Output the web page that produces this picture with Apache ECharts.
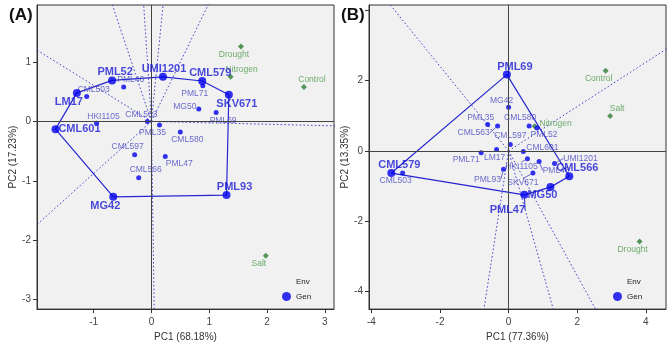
<!DOCTYPE html>
<html>
<head>
<meta charset="utf-8">
<script src="https://cdn.jsdelivr.net/npm/echarts@6.0.0/dist/echarts.min.js"></script>
<style>
html,body{margin:0;padding:0;background:#fff;}
#chart{width:669px;height:347px;}
</style>
</head>
<body>
<div id="chart"></div>
<script>
// ---- panel A (PC1 68.18%, PC2 17.23%) ----
const genA = ['UMI1201','PML52','LM17','CML601','MG42','PML93','SKV671','CML579',
  'PML46','CML503','HKI1105','CML563','PML35','CML597','PML47','CML566','CML580','MG50','PML69','PML71'];
const pc1A = [0.20,-0.68,-1.29,-1.66,-0.66,1.30,1.34,0.88,
  -0.48,-1.12,-0.95,-0.07,0.14,-0.29,0.24,-0.22,0.50,0.82,1.12,0.89];
const pc2A = [0.75,0.69,0.48,-0.13,-1.27,-1.24,0.45,0.68,
  0.58,0.42,-0.03,0.00,-0.06,-0.56,-0.59,-0.95,-0.18,0.21,0.15,0.60];
const hullA = ['UMI1201','CML579','SKV671','PML93','MG42','CML601','LM17','PML52'];
const envA = ['Drought','Nitrogen','Control','Salt'];
const envPc1A = [1.55,1.37,2.64,1.98];
const envPc2A = [1.26,0.75,0.58,-2.26];
const xTicksA = [-1,0,1,2,3];
const yTicksA = [-3,-2,-1,0,1];

// ---- panel B (PC1 77.36%, PC2 13.35%) ----
const genB = ['PML69','CML566','MG50','PML47','CML579',
  'CML503','MG42','PML35','CML563','CML580','PML52','CML597','CML601','LM17','PML71',
  'HKI1105','PML46','UMI1201','PML93','SKV671'];
const pc1B = [-0.05,1.77,1.22,0.46,-3.42,
  -3.09,0.00,-0.61,-0.32,0.60,0.83,0.05,0.43,-0.35,-0.80,
  0.55,0.89,1.34,-0.15,0.71];
const pc2B = [2.17,-0.72,-1.03,-1.25,-0.63,
  -0.63,1.24,0.75,0.71,0.71,0.65,0.18,-0.02,0.04,-0.05,
  -0.22,-0.30,-0.36,-0.52,-0.63];
const hullB = ['PML69','CML566','MG50','PML47','CML579'];
const envB = ['Control','Salt','Nitrogen','Drought'];
const envPc1B = [2.83,2.96,0.76,3.82];
const envPc2B = [2.28,0.99,0.70,-2.58];
const xTicksB = [-4,-2,0,2,4];
const yTicksB = [-4,-2,0,2,4];
const yLabelsB = [-4,-2,0,2];

// label offsets in px (text centre relative to the point)
const offA = {
  UMI1201:[1,-8], PML52:[3,-8], LM17:[-8,9], CML601:[24,0], MG42:[-8,9], PML93:[8,-8],
  SKV671:[8,9], CML579:[8,-8], PML46:[7,-7], CML503:[7,-7], HKI1105:[7,-7], CML563:[-6,-7],
  PML35:[-7,8], CML597:[-7,-8], PML47:[14,7], CML566:[7,-8], CML580:[7,8], MG50:[-14,-2],
  PML69:[7,8], PML71:[-8,8],
  Drought:[-7,8], Nitrogen:[11,-7], Control:[8,-7], Salt:[-7,8]
};
const offB = {
  PML69:[8,-8], CML566:[8,-8], MG50:[-8,8], PML47:[-17,15], CML579:[8,-8], CML503:[-7,8],
  MG42:[-7,-7], PML35:[-7,-7], CML563:[-24,7], CML580:[-9,-8], PML52:[7,7], CML597:[0,-9],
  CML601:[19,-4], LM17:[-2,8], PML71:[-15,7], HKI1105:[-6,8], PML46:[17,9], UMI1201:[26,-5],
  PML93:[-16,10], SKV671:[-10,10],
  Control:[-7,8], Salt:[7,-7], Nitrogen:[21,-3], Drought:[-7,8]
};
// labels joined to their point by a short segment
const leadB = ['PML47','CML563','PML93','UMI1201','HKI1105','SKV671','PML46'];

const FONT = "'Liberation Sans', Arial, sans-serif";
const BLUE = '#0000ee';
const GREEN = '#2e7d32';

function buildPanel(gi, names, xs, ys, hull, envNames, envX, envY, offs, leads) {
  const pos = {};
  names.forEach((n, i) => { pos[n] = [xs[i], ys[i]]; });
  const series = [];
  const layout = p => {
    const o = offs[p.text] || [0, 0];
    return {dx: o[0], dy: o[1]};
  };

  // zero lines
  series.push({
    type: 'line', xAxisIndex: gi, yAxisIndex: gi, data: [], silent: true,
    markLine: {
      silent: true, symbol: 'none', label: {show: false},
      lineStyle: {color: '#444', width: 1, type: 'solid'},
      data: [{xAxis: 0}, {yAxis: 0}]
    }
  });

  // rays from origin perpendicular to each polygon side
  for (let i = 0; i < hull.length; i++) {
    const p = pos[hull[i]], q = pos[hull[(i + 1) % hull.length]];
    let nx = q[1] - p[1], ny = -(q[0] - p[0]);
    if (nx * p[0] + ny * p[1] < 0) { nx = -nx; ny = -ny; }
    const len = Math.hypot(nx, ny);
    series.push({
      type: 'line', xAxisIndex: gi, yAxisIndex: gi, silent: true, clip: true,
      symbol: 'none', z: 1,
      lineStyle: {color: '#4646cc', width: 1, type: [1.6, 2.2]},
      data: [[0, 0], [nx / len * 40, ny / len * 40]]
    });
  }

  // polygon
  const poly = hull.concat([hull[0]]).map(n => pos[n]);
  series.push({
    type: 'line', xAxisIndex: gi, yAxisIndex: gi, silent: true, symbol: 'none', z: 2,
    lineStyle: {color: '#2626d0', width: 1.2}, data: poly
  });

  const mk = (n, x, y) => {
    const d = {name: n, value: [x, y]};
    if (leads.indexOf(n) >= 0) d.labelLine = {show: true};
    return d;
  };

  // environments
  series.push({
    name: 'Env', type: 'scatter', xAxisIndex: gi, yAxisIndex: gi, symbol: 'diamond',
    symbolSize: 6, z: 4, itemStyle: {color: GREEN},
    label: {show: true, position: 'inside', formatter: '{b}', color: '#4a9a4a',
      fontSize: 8.5, fontFamily: FONT},
    labelLayout: layout,
    data: envNames.map((n, i) => mk(n, envX[i], envY[i]))
  });

  const isHull = n => hull.indexOf(n) >= 0;
  // other genotypes
  series.push({
    name: 'Gen', type: 'scatter', xAxisIndex: gi, yAxisIndex: gi, symbolSize: 5, z: 4,
    itemStyle: {color: BLUE},
    label: {show: true, position: 'inside', formatter: '{b}', color: '#4848c4',
      fontSize: 8.5, fontFamily: FONT},
    labelLayout: layout,
    labelLine: {show: false, lineStyle: {color: '#4848c4', width: 0.8}},
    data: names.filter(n => !isHull(n)).map(n => mk(n, pos[n][0], pos[n][1]))
  });
  // polygon vertex genotypes
  series.push({
    name: 'Gen', type: 'scatter', xAxisIndex: gi, yAxisIndex: gi, symbolSize: 8, z: 5,
    itemStyle: {color: BLUE},
    label: {show: true, position: 'inside', formatter: '{b}', color: '#1a1ad4',
      fontSize: 11, fontWeight: 'bold', fontFamily: FONT},
    labelLayout: layout,
    labelLine: {show: false, lineStyle: {color: '#2626d0', width: 1}},
    data: hull.map(n => mk(n, pos[n][0], pos[n][1]))
  });
  return series;
}

function axis(gi, min, max, ticks, labels, name, gap, isX) {
  return {
    type: 'value', gridIndex: gi, min: min, max: max,
    splitLine: {show: false},
    axisLine: {show: true, onZero: false, lineStyle: {color: '#333', width: 1}},
    axisTick: {show: true, customValues: ticks, length: 4, lineStyle: {color: '#333'}},
    axisLabel: {customValues: labels, fontSize: 10, color: '#444', fontFamily: FONT,
      margin: isX ? 8 : 6},
    name: name, nameLocation: 'middle', nameGap: gap,
    nameTextStyle: {fontSize: 10, color: '#333', fontFamily: FONT}
  };
}

const chart = echarts.init(document.getElementById('chart'), null, {renderer: 'canvas'});
const legendItem = (left) => ({
  orient: 'vertical', left: left, top: 272, itemWidth: 9, itemHeight: 9, itemGap: 6,
  selectedMode: false,
  textStyle: {fontSize: 8, color: '#222', fontFamily: FONT},
  data: [
    {name: 'Env', icon: 'circle', itemStyle: {color: 'rgba(0,0,0,0)', borderWidth: 0}},
    {name: 'Gen', icon: 'circle', itemStyle: {color: BLUE}}
  ]
});

chart.setOption({
  animation: false,
  backgroundColor: '#fff',
  title: [
    {text: '(A)', left: 4, top: 2, textStyle: {fontSize: 17, fontWeight: 'bold', color: '#111', fontFamily: FONT}},
    {text: '(B)', left: 336, top: 2, textStyle: {fontSize: 17, fontWeight: 'bold', color: '#111', fontFamily: FONT}}
  ],
  legend: [legendItem(277), legendItem(608)],
  grid: [
    {left: 37, top: 5, width: 297, height: 309, show: true, backgroundColor: '#f1f1f1',
      borderColor: '#333', borderWidth: 1},
    {left: 369, top: 5, width: 297, height: 309, show: true, backgroundColor: '#f1f1f1',
      borderColor: '#333', borderWidth: 1}
  ],
  xAxis: [
    axis(0, -1.98, 3.16, xTicksA, xTicksA, 'PC1 (68.18%)', 20, true),
    axis(1, -4.07, 4.59, xTicksB, xTicksB, 'PC1 (77.36%)', 20, true)
  ],
  yAxis: [
    axis(0, -3.16, 1.96, yTicksA, yTicksA, 'PC2 (17.23%)', 18, false),
    axis(1, -4.5, 4.15, yTicksB, yLabelsB, 'PC2 (13.35%)', 16, false)
  ],
  series: buildPanel(0, genA, pc1A, pc2A, hullA, envA, envPc1A, envPc2A, offA, [])
    .concat(buildPanel(1, genB, pc1B, pc2B, hullB, envB, envPc1B, envPc2B, offB, leadB))
});
</script>
</body>
</html>
